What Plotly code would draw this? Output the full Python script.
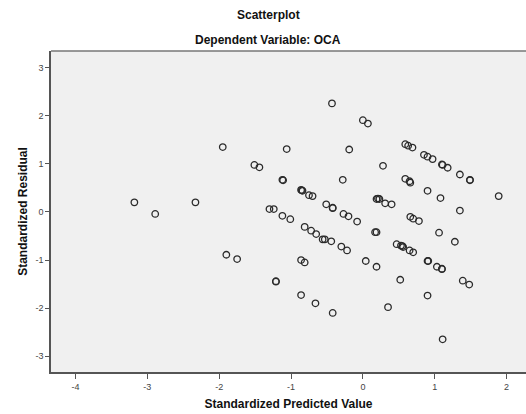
import plotly.graph_objects as go

pred = [-3.18, -2.89, -2.33, -1.95, -1.51, -1.44, -1.12, -1.11, -1.06, -1.30, -1.24, -1.12, -1.01,
        -1.90, -1.75, -1.21, -1.21, -0.43, 0.00, 0.07, -0.19, 0.28, 0.59, 0.63, 0.69, 0.85, 0.90,
        0.97, 1.10, 1.11, 1.18, 1.35, 1.49, 1.49, 1.89, -0.86, -0.84, -0.85, -0.75, -0.70, -0.28,
        -0.51, -0.42, -0.42, -0.27, -0.20, -0.08, 0.19, 0.21, 0.23, 0.31, 0.40, 0.59, 0.66, 0.65,
        0.90, 1.08, 1.35, 0.66, 0.70, 0.78, -0.81, -0.72, -0.65, -0.56, -0.53, -0.44, -0.30, -0.22,
        0.17, 0.19, -0.86, -0.81, -0.86, -0.66, -0.42, 0.04, 0.19, 0.35, 0.52, 0.47, 0.53, 0.55,
        0.56, 0.65, 0.70, 0.90, 0.91, 0.90, 1.03, 1.10, 1.10, 1.06, 1.28, 1.39, 1.48, 1.11]
resid = [0.20, -0.04, 0.20, 1.35, 0.98, 0.93, 0.67, 0.66, 1.31, 0.06, 0.06, -0.08, -0.15,
         -0.89, -0.98, -1.44, -1.45, 2.26, 1.91, 1.84, 1.30, 0.96, 1.41, 1.38, 1.34, 1.19, 1.15,
         1.10, 0.99, 0.98, 0.92, 0.78, 0.67, 0.66, 0.33, 0.46, 0.44, 0.45, 0.35, 0.33, 0.67,
         0.16, 0.08, 0.09, -0.04, -0.09, -0.20, 0.27, 0.28, 0.27, 0.18, 0.16, 0.69, 0.61, 0.64,
         0.44, 0.29, 0.03, -0.10, -0.14, -0.19, -0.31, -0.39, -0.46, -0.57, -0.57, -0.61, -0.72, -0.80,
         -0.42, -0.42, -1.00, -1.05, -1.73, -1.90, -2.10, -1.02, -1.14, -1.98, -1.41, -0.67, -0.70, -0.71,
         -0.73, -0.80, -0.84, -1.02, -1.02, -1.74, -1.14, -1.19, -1.18, -0.43, -0.62, -1.43, -1.51, -2.65]

x_ticks = [-4, -3, -2, -1, 0, 1, 2]
y_ticks = [-3, -2, -1, 0, 1, 2, 3]

title_text = "Scatterplot"
subtitle_text = "Dependent Variable: OCA"
x_title = "Standardized Predicted Value"
y_title = "Standardized Residual"

font_family = "Liberation Sans, Arial, sans-serif"

fig = go.Figure()
fig.add_trace(go.Scatter(
    x=pred, y=resid, mode="markers",
    marker=dict(symbol="circle-open", size=6.5, color="#2a2a2a", line=dict(width=1.3)),
    hoverinfo="x+y", showlegend=False,
))

fig.update_layout(
    width=526, height=414,
    margin=dict(l=51, r=0, t=51, b=42),
    paper_bgcolor="white",
    plot_bgcolor="#F0F0F0",
    font=dict(family=font_family, color="#222"),
    xaxis=dict(
        range=[-4.34, 2.27], tickvals=x_ticks, ticktext=[str(v) for v in x_ticks],
        showgrid=False, zeroline=False, showline=True, linecolor="#555", linewidth=1.5,
        ticks="outside", ticklen=5, tickcolor="#555", tickwidth=1,
        tickfont=dict(size=9, color="#444"),
        title=dict(text=x_title, font=dict(size=12, color="#111", family=font_family, weight="bold"), standoff=9),
    ),
    yaxis=dict(
        range=[-3.33, 3.35], tickvals=y_ticks, ticktext=[str(v) for v in y_ticks],
        showgrid=False, zeroline=False, showline=True, linecolor="#555", linewidth=1.5,
        ticks="outside", ticklen=4, tickcolor="#555", tickwidth=1,
        tickfont=dict(size=9, color="#444"),
        title=dict(text=y_title, font=dict(size=12, color="#111", family=font_family, weight="bold"), standoff=5),
    ),
    shapes=[dict(type="line", xref="paper", yref="paper", x0=0, x1=1, y0=1, y1=1,
                 line=dict(color="#777", width=1.5))],
    annotations=[
        dict(text=f"<b>{title_text}</b>", xref="paper", yref="paper", x=0.457, y=1, yshift=36,
             showarrow=False, font=dict(size=12, color="#111"), xanchor="center", yanchor="middle"),
        dict(text=f"<b>{subtitle_text}</b>", xref="paper", yref="paper", x=0.457, y=1, yshift=11,
             showarrow=False, font=dict(size=12, color="#111"), xanchor="center", yanchor="middle"),
    ],
)

fig.write_html("out.html")
